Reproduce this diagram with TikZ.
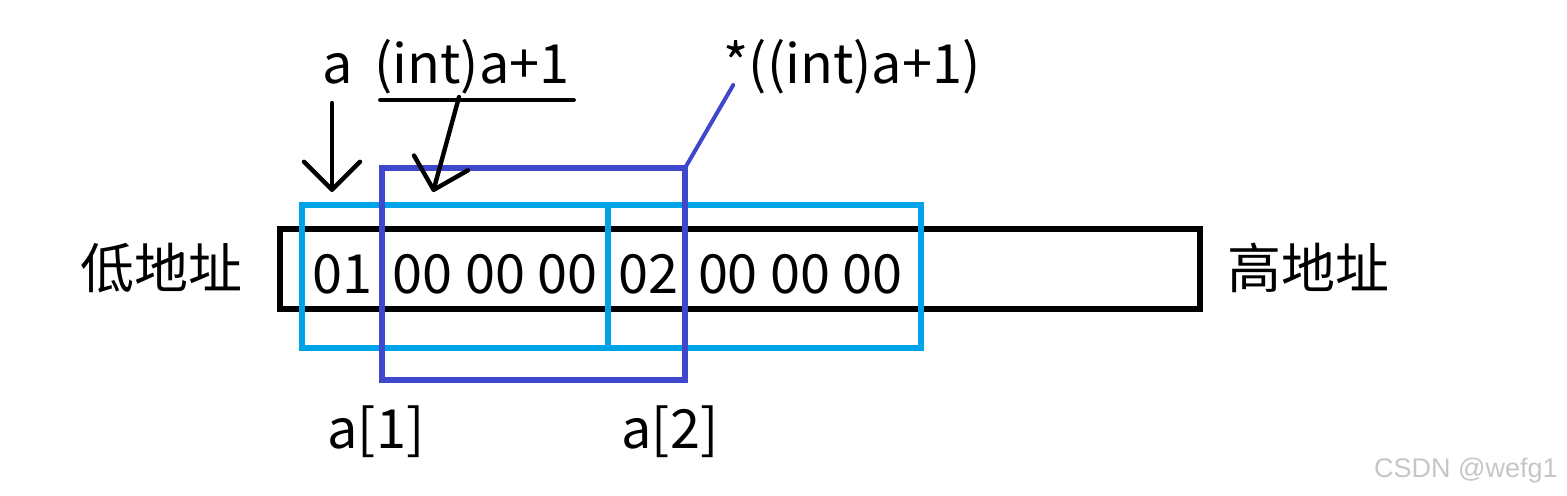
\documentclass[tikz,border=0pt]{standalone}
\usepackage{fontspec}
\setmainfont{Noto Sans CJK SC}
\newfontfamily\wmfont{Liberation Sans}
\usetikzlibrary{arrows.meta}
\definecolor{paintcyan}{HTML}{00A2E8}
\definecolor{paintblue}{HTML}{3F48CC}
\begin{document}
\begin{tikzpicture}[x=0.5pt,y=-0.5pt,line cap=round,
		txt/.style={inner sep=0pt,anchor=base,font=\fontsize{27pt}{32pt}\selectfont},
		ptr/.style={line width=2.2pt,-{Straight Barb[length=14pt,width=28pt,round]}},
		cell/.style={draw=paintcyan,line width=2.6pt,line cap=butt},
		word/.style={draw=paintblue,line width=2.6pt,line cap=butt}]
	\useasboundingbox (0,0) rectangle (1567,495);
	\draw [line width=3pt,line cap=butt] (280,229) rectangle (1200,309);
	\draw [cell] (302,205) rectangle (608,348) (608,205) rectangle (921,348);
	\draw [word] (382,168) rectangle (685,380);
	\node [txt,anchor=center] (lo) at (161,268) {低地址};
	\node [txt,anchor=center] (hi) at (1308,268) {高地址};
	\node [txt] (b1) at (342,293) {01};
	\node [txt] (b2) at (495,293) {00 00 00};
	\node [txt] (b3) at (648,293) {02};
	\node [txt] (b4) at (800,293) {00 00 00};
	\node [txt] (a) at (338,83) {a};
	\node [txt] (inta) at (472,83) {(int)a+1};
	\node [txt] (deref) at (852,83) {*((int)a+1)};
	\node [txt] (e1) at (376,448) {a[1]};
	\node [txt] (e2) at (670,448) {a[2]};
	\coordinate (pa) at (332,192);
	\coordinate (pi) at (433,192);
	\coordinate (wc) at (685,168);
	\draw [line width=2pt] ([xshift=3pt,yshift=-8.5pt]inta.base west)--([xshift=2pt,yshift=-8.5pt]inta.base east);
	\draw [ptr] ([yshift=-10pt]a.base -| pa)--(pa);
	\draw [ptr] ([xshift=-6.5pt,yshift=-7pt]inta.base)--(pi);
	\draw [paintblue,line width=2pt] (wc)--([xshift=5pt,yshift=-1pt]deref.base west);
	\node [anchor=base east,inner sep=0pt,font=\wmfont\fontsize{13.5pt}{16pt}\selectfont,text=gray!45] (wm) at (1558,477) {CSDN @wefg1};
\end{tikzpicture}
\end{document}
